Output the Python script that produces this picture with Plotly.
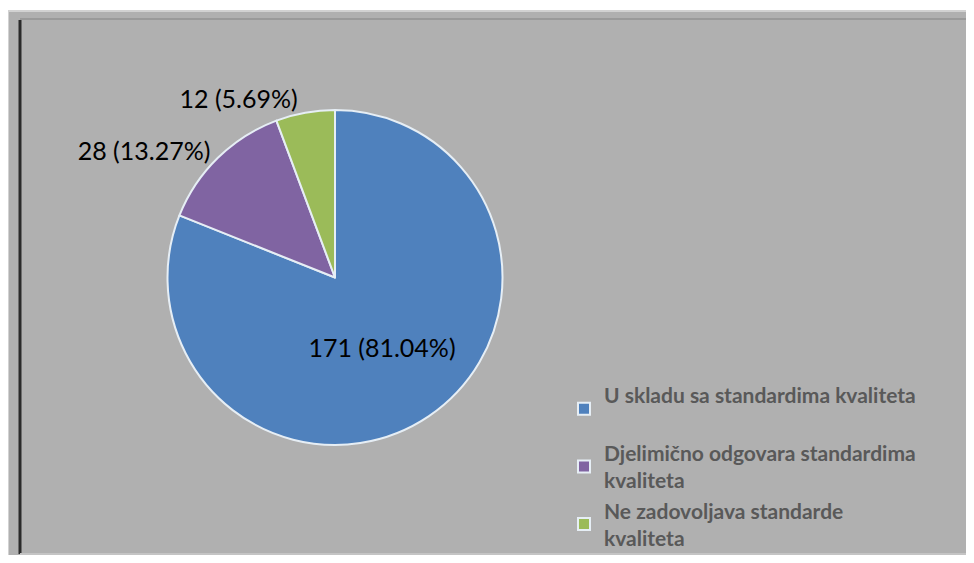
import plotly.graph_objects as go

labels = ["U skladu sa standardima kvaliteta<br> ",
          "Djelimično odgovara standardima<br>kvaliteta",
          "Ne zadovoljava standarde<br>kvaliteta"]
values = [171, 28, 12]
percents = ["81.04%", "13.27%", "5.69%"]
colors = ["#4F81BD", "#8064A2", "#9BBB59"]

OFF = 8  # page body margin
W, H = 974 - 2 * OFF, 563 - 2 * OFF

def px(x):
    return (x - OFF) / W

def py(y):
    return 1 - (y - OFF) / H

fig = go.Figure()
fig.add_trace(go.Pie(
    labels=labels,
    values=values,
    customdata=percents,
    texttemplate="%{value} (%{customdata})",
    textposition=["inside", "outside", "outside"],
    textfont=dict(family="Lato, Open Sans, sans-serif", size=25, color="black"),
    insidetextorientation="horizontal",
    marker=dict(colors=colors, line=dict(color="#E6EEF5", width=2)),
    sort=False,
    direction="clockwise",
    rotation=0,
    showlegend=True,
    domain=dict(x=[px(90), px(580)], y=[py(445), py(110)]),
    hoverinfo="label+value+percent",
))

shapes = [
    dict(type="rect", xref="paper", yref="paper", x0=px(8), x1=px(972), y0=py(560), y1=py(11),
         fillcolor="#B0B0B0", line=dict(color="#D2D2D2", width=2), layer="below"),
    dict(type="line", xref="paper", yref="paper", x0=px(20), x1=px(971), y0=py(19), y1=py(19),
         line=dict(color="#9A9A9A", width=2), layer="below"),
    dict(type="line", xref="paper", yref="paper", x0=px(20), x1=px(20), y0=py(554), y1=py(20),
         line=dict(color="#2A2A2A", width=3), layer="below"),
    dict(type="line", xref="paper", yref="paper", x0=px(20), x1=px(971), y0=py(554), y1=py(554),
         line=dict(color="#C4C4C4", width=2), layer="below"),
]

fig.update_layout(
    width=W, height=H,
    margin=dict(l=0, r=0, t=0, b=0, autoexpand=False),
    paper_bgcolor="white",
    plot_bgcolor="#B0B0B0",
    shapes=shapes,
    legend=dict(
        x=px(564), y=py(375), xanchor="left", yanchor="top",
        font=dict(family="Lato, Open Sans, sans-serif", size=21, color="#595959", weight="bold"),
        bgcolor="rgba(0,0,0,0)",
        tracegroupgap=0,
        itemwidth=30,
    ),
)

fig.write_html("out.html")
